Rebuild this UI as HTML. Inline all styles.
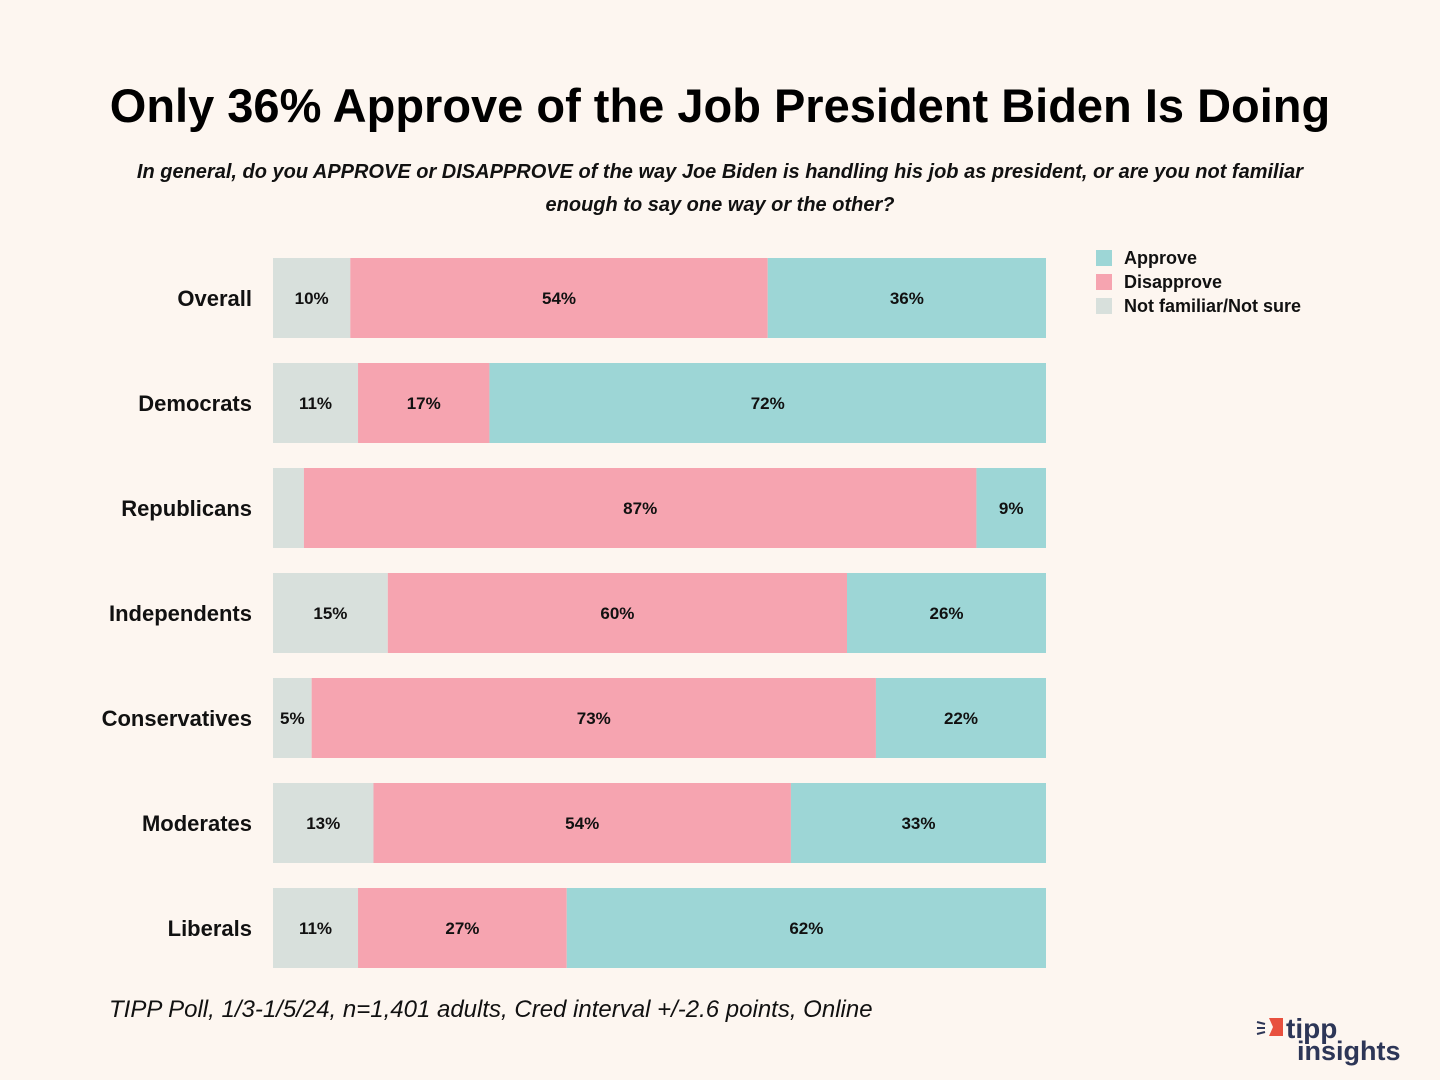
<!DOCTYPE html>
<html><head><meta charset="utf-8">
<style>
html,body{margin:0;padding:0;background:#fdf6f0;}
body{width:1440px;height:1080px;position:relative;overflow:hidden;font-family:"Liberation Sans",sans-serif;}
#title{position:absolute;left:0;width:1440px;top:78px;text-align:center;font-size:47px;font-weight:bold;color:#000;}
#sub{position:absolute;left:120px;width:1200px;top:156px;text-align:center;font-size:20px;font-style:italic;font-weight:bold;line-height:33px;color:#111;}
#foot{position:absolute;left:109px;top:996px;font-size:24px;font-style:italic;color:#111;}
</style></head><body>
<div id="title">Only 36% Approve of the Job President Biden Is Doing</div>
<div id="sub">In general, do you APPROVE or DISAPPROVE of the way Joe Biden is handling his job as president, or are you not familiar enough to say one way or the other?</div>
<svg id="chart" width="1440" height="1080" style="position:absolute;left:0;top:0"></svg>
<div id="foot">TIPP Poll, 1/3-1/5/24, n=1,401 adults, Cred interval +/-2.6 points, Online</div>
<svg style="position:absolute;left:1255px;top:1012px" width="160" height="56">
<polygon points="14,6 28,6 28,24 14,24 18,15" fill="#e8503e"/>
<line x1="2" y1="10" x2="10" y2="12" stroke="#2d3657" stroke-width="2"/>
<line x1="2" y1="16" x2="10" y2="16" stroke="#2d3657" stroke-width="2"/>
<line x1="2" y1="22" x2="10" y2="20" stroke="#2d3657" stroke-width="2"/>
<text x="31" y="26" font-size="28" font-weight="bold" fill="#2d3657" font-family="Liberation Sans,sans-serif">tipp</text>
<text x="42" y="48" font-size="27" font-weight="bold" fill="#2d3657" font-family="Liberation Sans,sans-serif">insights</text>
</svg>
<script>
const categories=["Overall","Democrats","Republicans","Independents","Conservatives","Moderates","Liberals"];
const notSure=[10,11,4,15,5,13,11];
const disapprove=[54,17,87,60,73,54,27];
const approve=[36,72,9,26,22,33,62];
const seriesNames=["Approve","Disapprove","Not familiar/Not sure"];
const colors={a:"#9dd6d6",d:"#f6a4b0",n:"#d8e0dc"};
const svg=document.getElementById('chart');
const NS="http://www.w3.org/2000/svg";
const x0=273,x1=1046,rowTop=258,rowStep=105,barH=80;
function yPos(i){return rowTop+i*rowStep;}
function xScale(v,total){return (x1-x0)*v/total;}
function mk(tag,attrs){const e=document.createElementNS(NS,tag);for(const k in attrs)e.setAttribute(k,attrs[k]);svg.appendChild(e);return e;}
categories.forEach((c,i)=>{
  const total=notSure[i]+disapprove[i]+approve[i];
  const y=yPos(i);
  const lab=mk('text',{x:252,y:y+barH/2+8,'text-anchor':'end','font-size':22,'font-weight':'bold',fill:'#111'});
  lab.textContent=c;
  
  
  let x=x0;
  [[notSure[i],colors.n,'not-sure'],[disapprove[i],colors.d,'disapprove'],[approve[i],colors.a,'approve']].forEach(([v,col,nm])=>{
    const w=xScale(v,total);
    const r=mk('rect',{x:x,y:y,width:w,height:barH,fill:col});
    
    
    if(v>=5){
      const t=mk('text',{x:x+w/2,y:y+barH/2+6,'text-anchor':'middle','font-size':17,'font-weight':'bold',fill:'#111'});
      t.textContent=v+'%';
      
      
    }
    x+=w;
  });
});
[colors.a,colors.d,colors.n].forEach((col,k)=>{
  const y=250+k*24;
  const r=mk('rect',{x:1096,y:y,width:16,height:16,fill:col});
  
  
  const t=mk('text',{x:1124,y:y+14,'font-size':18,'font-weight':'bold',fill:'#111'});
  t.textContent=seriesNames[k];
  
  
});
</script>
</body></html>
